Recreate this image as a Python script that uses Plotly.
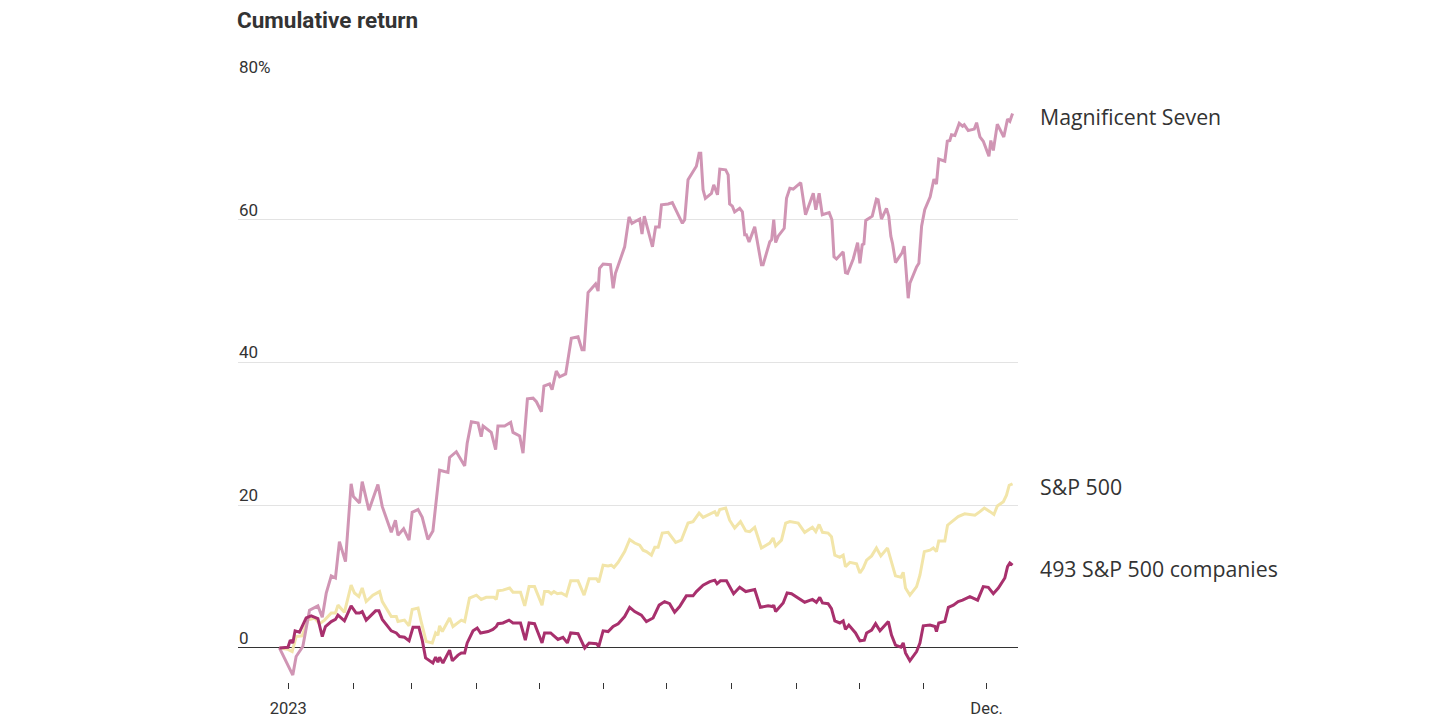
import pandas as pd
import plotly.graph_objects as go

# ---- data (day offset from 2023-01-01, cumulative return %) ----
mag7_days = [-4.2, 2.2, 3.8, 7.0, 10.2, 14.2, 16.3, 18.2, 20.6, 22.6, 24.5, 27.4, 30.1, 31.2, 34.1, 35.4,
             38.6, 42.9, 45.0, 49.3, 51.3, 52.5, 55.2, 57.8, 59.3, 62.1, 64.1, 66.8, 69.2, 72.4, 76.4, 77.2,
             80.4, 82.8, 84.4, 85.6, 87.6, 90.8, 92.3, 93.2, 97.1, 99.2, 100.3, 103.5, 106.4, 107.5, 110.7,
             112.3, 114.4, 117.1, 118.7, 121.1, 122.3, 125.0, 126.2, 128.2, 129.8, 132.7, 135.4, 138.6,
             140.5, 141.5, 143.4, 147.0, 148.2, 148.9, 150.6, 154.1, 155.4, 156.5, 160.9, 163.0, 164.4,
             168.1, 169.2, 170.3, 174.2, 175.7, 177.4, 178.5, 181.7, 183.7, 188.5, 189.6, 191.2, 195.2,
             196.5, 197.3, 198.4, 199.5, 202.4, 203.5, 205.3, 206.4, 209.2, 210.4, 211.1, 212.4, 213.5,
             215.9, 217.2, 218.3, 219.1, 220.4, 223.1, 226.3, 227.1, 230.3, 231.2, 232.2, 233.1, 234.3,
             237.2, 238.3, 239.9, 241.5, 245.1, 247.4, 251.1, 252.3, 253.9, 255.4, 258.7, 260.0, 261.0,
             262.2, 265.4, 266.5, 267.5, 270.2, 272.3, 273.4, 274.5, 275.3, 276.2, 279.3, 280.5, 281.3,
             282.1, 283.7, 286.1, 287.2, 288.2, 289.0, 290.4, 293.6, 294.6, 296.5, 297.3, 300.5, 301.6,
             302.9, 304.4, 307.0, 308.8, 310.0, 311.1, 314.0, 315.2, 316.4, 317.2, 318.8, 320.9, 322.5,
             323.3, 325.2, 328.1, 329.2, 330.8, 332.4, 335.1, 336.0, 337.2, 339.1, 342.2, 344.0, 345.1, 346.4]
mag7_vals = [0.0, -3.8, -1.2, 0.2, 5.3, 5.9, 4.3, 7.7, 10.1, 9.8, 14.9, 12.1, 23.0, 21.2, 20.3, 23.3,
             19.3, 22.9, 19.8, 16.2, 17.9, 15.8, 16.7, 15.1, 19.0, 19.4, 18.3, 15.2, 16.4, 24.9, 24.6, 26.7,
             27.5, 26.3, 25.5, 28.7, 31.7, 31.5, 29.6, 31.1, 30.2, 27.8, 31.1, 31.1, 31.6, 30.2, 29.7,
             27.3, 34.9, 35.0, 34.5, 33.1, 36.7, 37.0, 36.2, 38.8, 38.0, 38.4, 43.4, 43.6,
             41.8, 41.8, 49.8, 51.0, 50.0, 53.2, 53.8, 53.7, 50.4, 52.5, 56.2, 60.4, 59.5,
             60.1, 58.0, 60.5, 56.2, 59.0, 59.0, 62.1, 62.2, 62.4, 59.5, 60.0, 65.6, 67.5,
             69.3, 69.3, 64.2, 63.0, 63.7, 64.9, 63.5, 67.1, 67.0, 66.3, 62.2, 61.9, 61.1,
             61.6, 61.1, 57.9, 57.9, 56.9, 59.0, 53.7, 53.7, 56.9, 57.2, 60.0, 56.8, 57.7,
             58.8, 63.0, 64.4, 64.3, 65.2, 60.7, 63.7, 61.4, 63.7, 60.7, 61.0, 60.0, 54.8,
             54.5, 55.5, 52.6, 52.5, 54.5, 56.8, 53.9, 56.5, 56.6, 59.9, 60.5, 61.9, 62.9,
             62.8, 60.1, 61.6, 60.5, 57.7, 56.7, 54.0, 55.4, 56.3, 49.0, 51.1, 53.4, 53.9,
             59.1, 61.4, 63.2, 65.7, 65.0, 68.5, 68.2, 71.0, 71.1, 71.9, 71.8, 73.5, 73.1,
             73.3, 72.5, 72.7, 73.6, 71.6, 71.0, 68.9, 71.1, 69.7, 73.4, 71.6, 74.1, 73.8, 74.9]

sp500_days = [-4.2, -0.1, 1.9, 3.0, 3.8, 6.7, 9.4, 12.6, 15.0, 17.4, 20.6, 22.6, 23.8, 26.9, 30.1, 31.7,
              33.8, 35.4, 37.3, 40.5, 43.7, 45.0, 49.3, 51.7, 52.5, 55.6, 57.8, 59.3, 62.1, 63.6, 66.0,
              68.9, 70.5, 71.6, 72.4, 73.7, 77.2, 78.8, 81.2, 82.8, 84.4, 86.7, 90.0, 92.3, 94.7, 98.4,
              99.5, 100.3, 102.7, 105.9, 107.5, 111.1, 113.1, 115.2, 117.8, 121.4, 122.6, 124.5, 125.8,
              127.1, 128.7, 130.6, 133.0, 135.1, 138.6, 141.5, 143.9, 147.4, 148.5, 150.6, 153.0, 154.5,
              155.8, 157.8, 160.9, 163.3, 165.7, 168.1, 169.7, 171.3, 173.7, 175.3, 176.9, 178.9, 181.7,
              185.3, 188.0, 191.2, 193.6, 196.5, 198.4, 201.6, 204.0, 205.1, 206.4, 209.2, 211.1, 213.5,
              216.3, 218.8, 220.7, 223.1, 226.3, 230.3, 231.9, 233.1, 235.9, 237.9, 239.9, 243.9, 247.0,
              250.7, 252.3, 253.9, 255.5, 258.2, 259.8, 261.4, 263.8, 265.4, 266.5, 268.6, 271.8, 273.4,
              275.0, 276.6, 279.0, 281.3, 283.4, 286.6, 288.5, 290.4, 293.0, 294.1, 295.2, 297.3, 300.5,
              302.1, 304.2, 306.9, 308.5, 310.0, 311.1, 314.0, 315.3, 317.2, 320.4, 323.5, 328.4, 330.8,
              332.9, 335.6, 337.5, 339.1, 342.0, 343.5, 344.8, 346.4]
sp500_vals = [0.0, -0.2, -0.5, 0.9, 1.6, 1.7, 3.9, 4.2, 3.4, 3.9, 4.9, 4.9, 6.0, 5.0, 8.8, 7.7,
              7.2, 8.4, 6.5, 7.4, 7.9, 6.5, 4.4, 4.4, 3.7, 3.9, 3.1, 5.4, 5.6, 3.7, 0.9,
              0.7, 2.1, 1.8, 3.1, 2.3, 4.2, 3.0, 3.6, 3.9, 3.7, 7.0, 7.4, 6.8, 7.1, 7.1,
              6.8, 8.0, 8.1, 8.4, 7.8, 7.8, 5.9, 8.6, 8.6, 6.0, 7.9, 7.9, 7.6,
              7.9, 7.6, 7.7, 7.3, 9.4, 9.4, 7.4, 9.7, 9.7, 9.2, 11.6, 11.5, 11.6,
              11.3, 12.0, 13.5, 15.2, 14.7, 14.4, 13.7, 13.5, 13.0, 14.1, 14.1, 16.1, 16.2,
              14.8, 15.1, 17.5, 17.7, 18.9, 18.3, 18.8, 19.1, 18.5, 19.4, 19.6, 17.9, 16.8,
              17.7, 16.4, 16.3, 16.9, 14.0, 14.7, 15.4, 14.3, 15.1, 17.5, 17.7, 17.5, 16.2,
              16.9, 16.3, 17.3, 16.2, 16.1, 15.6, 13.0, 12.7, 13.0, 11.4, 12.0, 11.8, 10.5,
              11.2, 12.3, 12.9, 14.0, 12.9, 14.0, 12.1, 10.1, 9.9, 10.6, 8.4, 7.4, 8.6,
              10.2, 13.5, 13.7, 14.0, 13.5, 15.0, 15.0, 17.2, 17.6, 18.4, 18.8, 18.6, 19.1,
              19.6, 19.1, 18.7, 19.9, 20.5, 21.4, 22.8, 23.0]

rest493_days = [-4.2, -0.1, 1.0, 2.2, 3.3, 5.4, 8.6, 11.0, 14.2, 16.3, 17.8, 20.6, 22.6, 23.8, 26.9, 30.1,
                32.5, 34.1, 35.4, 37.3, 41.8, 43.4, 45.0, 49.3, 51.7, 53.3, 55.6, 57.8, 59.7, 62.5, 64.1,
                65.7, 69.2, 70.5, 71.6, 72.4, 74.0, 77.2, 78.5, 81.2, 82.8, 84.4, 85.6, 88.4, 90.4, 92.0,
                95.6, 97.9, 99.5, 100.3, 102.7, 105.6, 107.5, 111.1, 113.4, 115.2, 117.8, 121.4, 122.6,
                125.5, 129.0, 131.4, 133.5, 135.1, 138.6, 141.8, 143.9, 147.4, 148.5, 150.6, 153.0, 155.4,
                157.8, 160.9, 163.3, 165.7, 168.9, 171.3, 174.5, 177.4, 180.0, 182.4, 184.8, 187.2, 190.4,
                193.6, 195.2, 198.4, 201.6, 204.0, 205.1, 206.7, 209.6, 213.0, 215.9, 218.8, 223.1, 225.8,
                229.5, 231.6, 232.2, 233.1, 236.7, 238.6, 240.7, 243.4, 247.0, 250.7, 252.6, 254.2, 255.5,
                258.2, 259.8, 261.4, 263.8, 265.4, 266.5, 268.1, 271.3, 273.4, 275.5, 276.6, 279.0, 280.9,
                283.0, 287.0, 288.5, 290.4, 293.0, 294.1, 295.2, 297.3, 300.5, 302.1, 303.7, 306.9, 309.3,
                310.0, 311.1, 314.0, 315.7, 318.1, 320.4, 322.5, 326.0, 329.7, 332.4, 334.8, 337.2, 339.6,
                342.7, 344.0, 345.1, 346.4]
rest493_vals = [0.0, 0.1, 1.1, 0.7, 2.4, 2.2, 4.2, 4.5, 4.1, 1.6, 3.0, 3.7, 4.0, 4.6, 3.8, 5.9,
                4.9, 4.9, 5.1, 3.9, 5.2, 5.2, 4.0, 2.4, 2.1, 1.6, 1.5, 1.0, 2.9, 2.9, 1.1,
                -1.4, -2.1, -1.3, -2.0, -1.3, -2.1, -0.3, -1.8, -1.0, -0.7, -0.7, 0.7, 2.4, 2.8, 2.1,
                2.3, 2.6, 3.0, 3.4, 3.5, 3.9, 3.5, 3.5, 1.1, 3.5, 3.4, 0.7, 2.1,
                2.1, 1.2, 1.5, 0.7, 2.1, 2.0, 0.0, 0.7, 0.6, 0.2, 2.4, 2.3, 3.0,
                3.4, 4.4, 5.7, 5.1, 4.6, 3.7, 4.2, 6.0, 6.5, 6.2, 5.0, 5.8, 7.3,
                7.3, 7.9, 8.8, 9.3, 9.5, 9.0, 9.4, 9.4, 7.6, 8.5, 7.9, 8.2, 5.7,
                5.9, 5.8, 6.0, 5.1, 6.3, 7.7, 7.6, 7.1, 6.4, 6.8, 6.4, 7.1, 6.3,
                6.2, 5.5, 3.8, 3.5, 3.8, 2.6, 3.2, 2.1, 1.0, 1.1, 2.1, 2.5, 3.4,
                2.4, 3.7, 1.8, 0.4, 0.1, 0.7, -0.7, -1.8, -0.5, 0.7, 3.1, 3.2, 3.0,
                2.3, 3.5, 3.7, 5.7, 6.0, 6.5, 6.7, 7.2, 6.7, 8.6, 8.5, 7.6, 8.4,
                9.8, 11.4, 11.9, 11.6]

series_names = ["S&P 500", "Magnificent Seven", "493 S&P 500 companies"]
series_colors = ["#f2e5a9", "#d095b4", "#a8306d"]

y_ticks = [0, 20, 40, 60, 80]
y_tick_labels = ["0", "20", "40", "60", "80%"]

x_tick_dates = pd.date_range("2023-01-01", "2023-12-01", freq="MS")
x_tick_labels = ["2023"] + [""] * 10 + ["Dec."]

title_text = "Cumulative return"

# ---- build ----
base = pd.Timestamp("2023-01-01")


def to_dates(days):
    return [base + pd.Timedelta(days=d) for d in days]


series = [
    (sp500_days, sp500_vals),
    (mag7_days, mag7_vals),
    (rest493_days, rest493_vals),
]

FONT = "Roboto, 'Open Sans', sans-serif"
LABEL_FONT = "'Open Sans', 'Noto Sans', sans-serif"
TXT = "#333333"

fig = go.Figure()
for (days, vals), name, col in zip(series, series_names, series_colors):
    fig.add_trace(go.Scatter(
        x=to_dates(days), y=vals, mode="lines", name=name,
        line=dict(color=col, width=3), hoverinfo="skip",
    ))

annotations = []
for v, t in zip(y_ticks, y_tick_labels):
    annotations.append(dict(
        x=0, xref="paper", y=v, yref="y", text=t, showarrow=False,
        xanchor="left", yanchor="bottom", yshift=-2, xshift=-1,
        font=dict(family=FONT, size=17, color=TXT),
    ))

# series end labels
for (days, vals), name in zip(series, series_names):
    annotations.append(dict(
        x=1, xref="paper", y=vals[-1], yref="y", text=name, showarrow=False,
        xanchor="left", yanchor="middle", xshift=20, yshift=-3,
        font=dict(family=LABEL_FONT, size=21.3, color=TXT),
    ))

annotations.append(dict(
    x=0, xref="paper", y=1, yref="paper", text="<b>" + title_text + "</b>",
    showarrow=False, xanchor="left", yanchor="middle", yshift=57, xshift=-3,
    font=dict(family=FONT, size=22.5, color=TXT),
))

fig.update_layout(
    width=1434, height=722,
    margin=dict(l=230, r=424, t=69, b=48),
    paper_bgcolor="white", plot_bgcolor="white",
    showlegend=False,
    annotations=annotations,
    xaxis=dict(
        range=[pd.Timestamp("2022-12-08"), pd.Timestamp("2023-12-16")],
        tickvals=list(x_tick_dates), ticktext=x_tick_labels,
        ticks="outside", ticklen=6, tickwidth=1.2, tickcolor="#333333",
        showgrid=False, showline=False, zeroline=False,
        ticklabelstandoff=5,
        tickfont=dict(family=FONT, size=16.5, color=TXT),
    ),
    yaxis=dict(
        range=[-4.77, 80], tickvals=y_ticks, showticklabels=False,
        showgrid=True, gridcolor="#e3e3e3", gridwidth=1,
        zeroline=True, zerolinecolor="#333333", zerolinewidth=1.3,
        showline=False, ticks="",
    ),
)

fig.write_html("out.html")
